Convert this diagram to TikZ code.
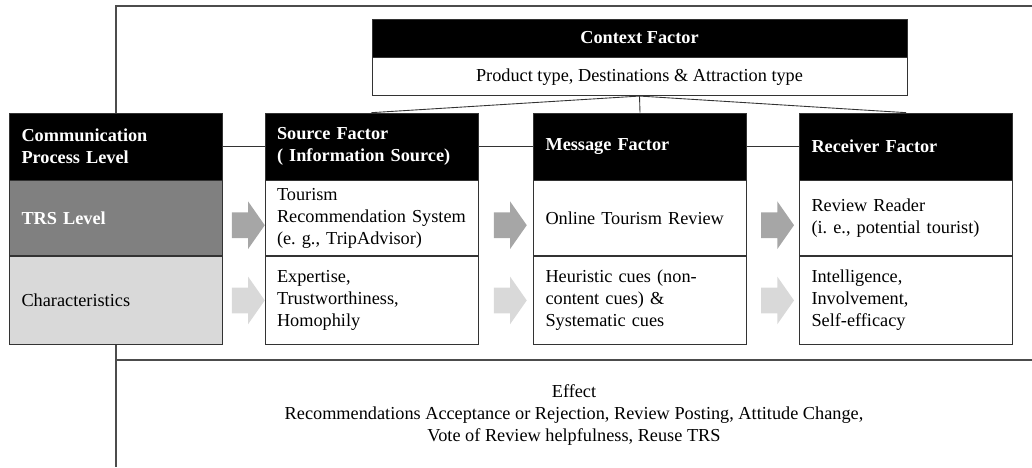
\documentclass[tikz,border=0pt]{standalone}
\usepackage{fontspec}
\setmainfont{Liberation Serif}
\usepackage{tikz}
\usetikzlibrary{shapes.arrows, positioning, calc}
\frenchspacing

\begin{document}
\begin{tikzpicture}[
    font=\fontsize{10.4}{12.5}\selectfont,
    head/.style={draw=black!80, fill=black, text=white, font=\fontsize{10.4}{12.5}\selectfont\bfseries,
                 text width=3.78cm, inner xsep=0.24cm, inner ysep=0pt, minimum height=1.34cm, align=left},
    trsrow/.style={draw=black!80, fill=white, text width=3.78cm, inner xsep=0.24cm, inner ysep=0pt,
                   minimum height=1.5cm, align=left},
    charrow/.style={trsrow, minimum height=1.76cm},
    ctxhead/.style={draw=black!80, fill=black, text=white, font=\fontsize{10.4}{12.5}\selectfont\bfseries,
                    minimum width=10.7cm, minimum height=0.76cm, inner sep=0pt},
    ctxbody/.style={draw=black!80, fill=white, minimum width=10.7cm, minimum height=0.76cm, inner sep=0pt},
    link/.style={draw=black!80, line width=0.5pt},
    frame/.style={draw=black!70, line width=0.6pt},
    blockarrow/.style={single arrow, draw=none, minimum height=0.66cm, minimum width=0.94cm,
                       single arrow head extend=0.22cm, single arrow tip angle=110,
                       inner xsep=0pt, inner ysep=0.25cm},
    trsarrow/.style={blockarrow, fill=black!35},
    chararrow/.style={blockarrow, fill=black!15}
]
    \useasboundingbox (0,0) rectangle (20.64,-9.34);

    % --- Context ---
    \node[ctxhead] (ctxhead) at (12.79,-0.76) {Context Factor};
    \node[ctxbody, below=0pt of ctxhead] (ctxbody) {Product type, Destinations \& Attraction type};

    % --- Headers ---
    \node[head] (lvlhead) at (2.32, -2.93) {Communication\\Process Level};
    \node[head] (srchead) at (7.43, -2.93) {Source Factor\\( Information Source)};
    \node[head] (msghead) at (12.8, -2.93) {Message Factor};
    \node[head] (rcvhead) at (18.12,-2.93) {Receiver Factor};

    % --- TRS level ---
    \node[trsrow, below=0pt of lvlhead, fill=black!50, text=white, font=\fontsize{10.4}{12.5}\selectfont\bfseries] (lvltrs) {TRS Level};
    \node[trsrow, below=0pt of srchead] (srctrs) {Tourism\\Recommendation System\\(e. g., TripAdvisor)};
    \node[trsrow, below=0pt of msghead] (msgtrs) {Online Tourism Review};
    \node[trsrow, below=0pt of rcvhead] (rcvtrs) {Review Reader\\(i. e., potential tourist)};

    % --- Characteristics ---
    \node[charrow, below=0pt of lvltrs, fill=black!15] (lvlchar) {Characteristics};
    \node[charrow, below=0pt of srctrs] (srcchar) {Expertise,\\Trustworthiness,\\Homophily};
    \node[charrow, below=0pt of msgtrs] (msgchar) {Heuristic cues (non-\\content cues) \&\\Systematic cues};
    \node[charrow, below=0pt of rcvtrs] (rcvchar) {Intelligence,\\Involvement,\\Self-efficacy};

    % --- Arrows ---
    \node[trsarrow]  (a1) at ($(lvltrs.east)!0.5!(srctrs.west)+(0,-0.14)$) {};
    \node[trsarrow]  (a2) at ($(srctrs.east)!0.5!(msgtrs.west)+(0,-0.14)$) {};
    \node[trsarrow]  (a3) at ($(msgtrs.east)!0.5!(rcvtrs.west)+(0,-0.14)$) {};
    \node[chararrow] (b1) at ($(lvlchar.east)!0.5!(srcchar.west)$) {};
    \node[chararrow] (b2) at ($(srcchar.east)!0.5!(msgchar.west)$) {};
    \node[chararrow] (b3) at ($(msgchar.east)!0.5!(rcvchar.west)$) {};

    % --- Links ---
    \draw[link] (lvlhead) -- (srchead);
    \draw[link] (srchead) -- (msghead);
    \draw[link] (msghead) -- (rcvhead);
    \draw[link] (ctxbody.south) -- (srchead.north);
    \draw[link] (ctxbody.south) -- (msghead.north);
    \draw[link] (ctxbody.south) -- (rcvhead.north);

    % --- Frame and effect ---
    \coordinate (topend) at (20.64,-0.12);
    \coordinate (bottomend) at (2.32,-9.34);
    \coordinate (effleft) at (2.32,-7.2);
    \coordinate (effright) at (20.64,-7.2);
    \draw[frame] (lvlhead.north) |- (topend);
    \draw[frame] (lvlchar.south) -- (bottomend);
    \draw[frame] (effleft) -- (effright);
    \node[align=center] (effect) at (11.48,-8.3)
        {Effect\\Recommendations Acceptance or Rejection, Review Posting, Attitude Change,\\Vote of Review helpfulness, Reuse TRS};
\end{tikzpicture}
\end{document}
